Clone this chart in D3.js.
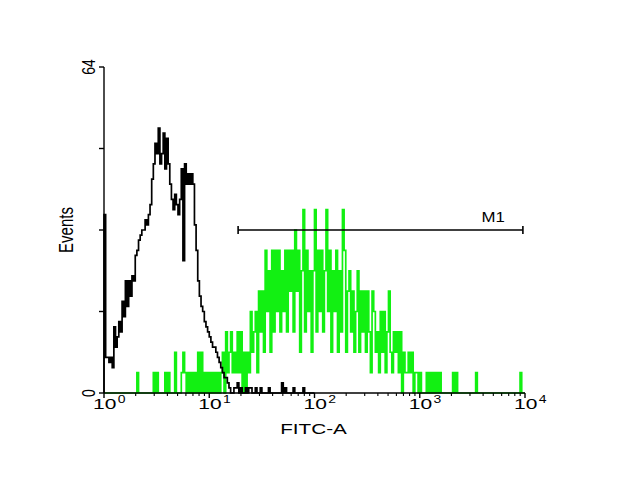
<!DOCTYPE html>
<html>
<head>
<meta charset="utf-8">
<script src="https://cdn.jsdelivr.net/npm/d3@7"></script>
<style>
  body { margin: 0; background: #fff; }
  text { font-family: "Liberation Sans", Arial, sans-serif; fill: #000; }
</style>
</head>
<body>
<script>
var w = 637;
var h = 480;

// 64 channels per decade, 4 decades
var chPerDecade = 64;

// isotype control (black), channels 0..127, rest empty
var blackCounts = [
  35,7,7,6,7,5,13,9,11,14,12,18,15,22,17,22,
  19,23,22,27,28,30,31,32,32,34,33,35,37,42,45,49,
  47,52,45,47,51,44,50,45,41,38,36,39,37,35,38,44,
  26,45,41,43,41,43,41,33,28,22,19,17,16,14,13,12,
  11,10,9,9,8,7,6,5,4,3,3,2,1,0,0,1,
  1,2,0,1,0,0,1,0,1,1,0,0,1,0,0,1,
  0,0,0,0,1,0,0,0,0,0,0,0,2,0,1,0,
  0,0,0,1,0,0,0,0,0,1,0,0,0,0,0,0
];

// stained sample (green), channels 0..255
var greenCounts = [
  0,0,0,0,0,0,0,0,0,0,0,0,0,0,0,0,
  0,0,0,0,4,0,0,0,0,0,0,0,0,0,4,0,
  4,0,0,0,0,4,0,4,0,0,0,8,0,0,0,4,
  8,4,0,4,0,4,0,4,0,8,0,8,0,4,0,4,
  0,4,0,4,0,4,0,4,8,0,12,4,8,12,4,8,
  4,12,4,12,0,8,0,8,4,16,8,12,16,4,20,12,
  20,8,28,16,24,8,28,12,28,16,28,12,24,16,28,12,
  28,20,28,12,32,20,28,8,24,36,12,28,16,24,8,24,
  36,12,28,16,28,12,24,36,16,28,8,24,16,28,8,24,
  12,36,28,8,20,24,12,20,8,16,24,8,20,12,20,8,
  20,12,4,20,16,8,12,4,16,8,16,4,12,20,8,4,
  12,8,12,4,12,0,8,4,4,8,4,8,0,4,4,0,
  4,0,0,0,4,0,4,0,4,0,4,0,4,0,0,0,
  0,0,0,0,4,0,4,0,0,0,0,0,0,0,0,0,
  0,0,4,0,0,0,0,0,0,0,0,0,0,0,0,0,
  0,0,0,0,0,0,0,0,0,0,0,0,0,4,0,0
];

var xTickExps = [0, 1, 2, 3, 4];
var yTicks = [0, 16, 32, 48, 64];
var yTickLabels = [0, 64];
var markerRange = [18.8, 9550];
var markerName = "M1";

var svg = d3.select("body").append("svg")
    .attr("width", w)
    .attr("height", h)
    .style("background-color", "white");

var x = d3.scaleLog().domain([1, 10000]).range([104, 525]);
var y = d3.scaleLinear().domain([0, 64]).range([393, 67]);

function chStart(c) { return Math.pow(10, c / chPerDecade); }

// step outline of a histogram: vertical at each channel start
function histPath(counts) {
  var p = d3.path();
  p.moveTo(x(chStart(0)), y(0));
  counts.forEach(function(v, c) {
    p.lineTo(x(chStart(c)), y(v));
    p.lineTo(x(chStart(c + 1)), y(v));
  });
  p.lineTo(x(chStart(counts.length)), y(0));
  return p.toString();
}

svg.append("path")
    .attr("d", histPath(greenCounts))
    .attr("fill", "none")
    .attr("stroke", "#12f012")
    .attr("stroke-width", 1.7);

svg.append("path")
    .attr("d", histPath(blackCounts))
    .attr("fill", "none")
    .attr("stroke", "black")
    .attr("stroke-width", 1.7);

// marker bar M1
var my = y(32);
svg.append("line")
    .attr("x1", x(markerRange[0])).attr("x2", x(markerRange[1]))
    .attr("y1", my).attr("y2", my)
    .attr("stroke", "black").attr("stroke-width", 1.4);
markerRange.forEach(function(v) {
  svg.append("line")
      .attr("x1", x(v)).attr("x2", x(v))
      .attr("y1", my - 4).attr("y2", my + 4)
      .attr("stroke", "black").attr("stroke-width", 1.6);
});
svg.append("text")
    .attr("transform", "translate(" + (x(markerRange[1]) - 18) + "," + (my - 8) + ")scale(1.2,1)")
    .attr("text-anchor", "end")
    .style("font-size", "14px")
    .text(markerName);

// x axis
var xg = svg.append("g").attr("transform", "translate(0," + y(0) + ")");
xg.append("line")
    .attr("x1", x(1)).attr("x2", x(10000))
    .attr("stroke", "black").attr("stroke-width", 1.4);
var minor = [];
xTickExps.slice(0, -1).forEach(function(e) {
  for (var k = 2; k < 10; k++) minor.push(k * Math.pow(10, e));
});
xg.selectAll(".mn").data(minor).enter().append("line")
    .attr("x1", function(d) { return x(d); })
    .attr("x2", function(d) { return x(d); })
    .attr("y1", 0).attr("y2", 3)
    .attr("stroke", "black").attr("stroke-width", 1.1);
xg.selectAll(".mj").data(xTickExps).enter().append("line")
    .attr("x1", function(d) { return x(Math.pow(10, d)); })
    .attr("x2", function(d) { return x(Math.pow(10, d)); })
    .attr("y1", 0).attr("y2", 5)
    .attr("stroke", "black").attr("stroke-width", 1.4);
var xl = xg.selectAll(".xl").data(xTickExps).enter().append("text")
    .attr("transform", function(d) { return "translate(" + (x(Math.pow(10, d)) - 11) + ",16)scale(1.4,1)"; })
    .style("font-size", "15px");
xl.append("tspan").text("10");
xl.append("tspan").attr("dy", -6).attr("dx", 1).style("font-size", "10px").text(function(d) { return d; });

svg.append("text")
    .attr("transform", "translate(" + ((x(1) + x(10000)) / 2 - 1) + ",434)scale(1.38,1)")
    .attr("text-anchor", "middle")
    .style("font-size", "15px")
    .text("FITC-A");

// y axis
var yg = svg.append("g").attr("transform", "translate(" + x(1) + ",0)");
yg.append("line")
    .attr("y1", y(0)).attr("y2", y(64))
    .attr("stroke", "black").attr("stroke-width", 1.4);
yg.selectAll(".yt").data(yTicks).enter().append("line")
    .attr("x1", -5).attr("x2", 0)
    .attr("y1", function(d) { return y(d); })
    .attr("y2", function(d) { return y(d); })
    .attr("stroke", "black").attr("stroke-width", 1.4);
yg.selectAll(".yl").data(yTickLabels).enter().append("text")
    .attr("transform", function(d) { return "translate(-9," + y(d) + ")rotate(-90)scale(1,1.3)"; })
    .attr("text-anchor", "middle")
    .style("font-size", "14px")
    .text(function(d) { return d; });

svg.append("text")
    .attr("transform", "translate(73," + y(32) + ")rotate(-90)scale(1,1.3)")
    .attr("text-anchor", "middle")
    .style("font-size", "15px")
    .text("Events");
</script>
</body>
</html>
